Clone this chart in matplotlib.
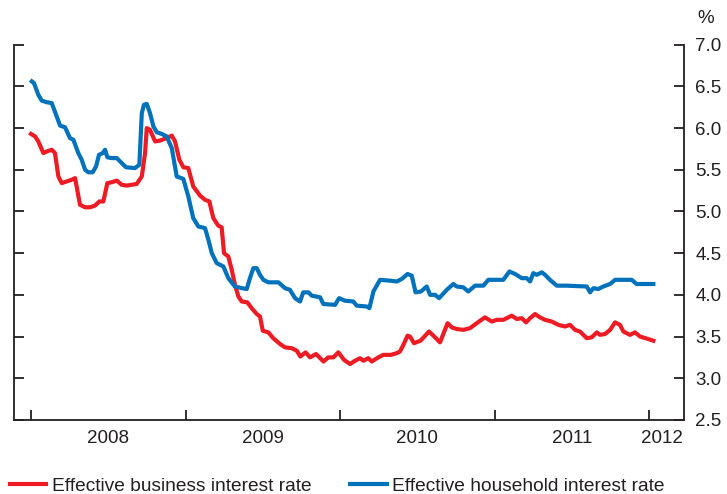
import numpy as np
import matplotlib
matplotlib.use('Agg')
import matplotlib.pyplot as plt

plt.rcParams['font.family'] = ['Liberation Sans', 'DejaVu Sans']

# --- Data (decimal years, % rates) --- #
business_t = [2008.000, 2008.026, 2008.047, 2008.080, 2008.102, 2008.134, 2008.155, 2008.177,
              2008.199, 2008.231, 2008.263, 2008.285, 2008.317, 2008.350, 2008.382, 2008.414,
              2008.442, 2008.468, 2008.494, 2008.522, 2008.555, 2008.587, 2008.619, 2008.652,
              2008.684, 2008.717, 2008.738, 2008.749, 2008.770, 2008.803, 2008.835, 2008.878,
              2008.911, 2008.932, 2008.960, 2008.986, 2009.018, 2009.050, 2009.094, 2009.126,
              2009.154, 2009.180, 2009.212, 2009.234, 2009.249, 2009.277, 2009.299, 2009.320,
              2009.342, 2009.364, 2009.400, 2009.428, 2009.461, 2009.482, 2009.500, 2009.536,
              2009.568, 2009.612, 2009.644, 2009.687, 2009.720, 2009.743, 2009.777, 2009.806,
              2009.845, 2009.893, 2009.924, 2009.957, 2009.989, 2010.026, 2010.065, 2010.097,
              2010.129, 2010.151, 2010.183, 2010.205, 2010.248, 2010.280, 2010.330, 2010.366,
              2010.388, 2010.410, 2010.437, 2010.453, 2010.479, 2010.521, 2010.576, 2010.599,
              2010.647, 2010.696, 2010.723, 2010.755, 2010.798, 2010.841, 2010.885, 2010.938,
              2010.982, 2011.014, 2011.057, 2011.111, 2011.144, 2011.176, 2011.204, 2011.230,
              2011.262, 2011.294, 2011.327, 2011.370, 2011.413, 2011.456, 2011.489, 2011.521,
              2011.553, 2011.597, 2011.629, 2011.662, 2011.683, 2011.715, 2011.748, 2011.780,
              2011.812, 2011.834, 2011.877, 2011.909, 2011.942, 2011.977, 2012.028]
business = [5.93, 5.90, 5.84, 5.70, 5.72, 5.74, 5.70, 5.42,
            5.34, 5.36, 5.38, 5.40, 5.08, 5.05, 5.05, 5.07,
            5.12, 5.12, 5.34, 5.35, 5.37, 5.32, 5.31, 5.32,
            5.33, 5.42, 5.70, 6.00, 5.98, 5.84, 5.85, 5.88,
            5.91, 5.84, 5.62, 5.53, 5.52, 5.30, 5.19, 5.14,
            5.12, 4.92, 4.83, 4.81, 4.50, 4.46, 4.30, 4.12,
            3.98, 3.92, 3.91, 3.84, 3.77, 3.74, 3.57, 3.55,
            3.48, 3.41, 3.37, 3.36, 3.33, 3.26, 3.31, 3.25,
            3.29, 3.20, 3.25, 3.25, 3.31, 3.22, 3.17, 3.21,
            3.24, 3.21, 3.24, 3.20, 3.25, 3.28, 3.28, 3.30,
            3.32, 3.40, 3.51, 3.50, 3.42, 3.45, 3.56, 3.52,
            3.43, 3.66, 3.61, 3.59, 3.58, 3.60, 3.66, 3.73,
            3.68, 3.70, 3.70, 3.75, 3.71, 3.72, 3.67, 3.72,
            3.77, 3.73, 3.70, 3.68, 3.64, 3.62, 3.64, 3.58,
            3.56, 3.48, 3.49, 3.55, 3.52, 3.53, 3.58, 3.67,
            3.64, 3.56, 3.52, 3.55, 3.50, 3.48, 3.45]

household_t = [2008.005, 2008.019, 2008.047, 2008.069, 2008.102, 2008.134, 2008.166, 2008.188,
               2008.220, 2008.252, 2008.274, 2008.306, 2008.328, 2008.350, 2008.371, 2008.399,
               2008.421, 2008.440, 2008.464, 2008.479, 2008.494, 2008.522, 2008.555, 2008.587,
               2008.615, 2008.673, 2008.701, 2008.717, 2008.731, 2008.749, 2008.770, 2008.792,
               2008.814, 2008.846, 2008.878, 2008.911, 2008.943, 2008.986, 2009.018, 2009.050,
               2009.083, 2009.126, 2009.148, 2009.170, 2009.202, 2009.245, 2009.277, 2009.320,
               2009.364, 2009.396, 2009.417, 2009.439, 2009.461, 2009.482, 2009.504, 2009.536,
               2009.601, 2009.644, 2009.676, 2009.709, 2009.741, 2009.762, 2009.795, 2009.817,
               2009.871, 2009.892, 2009.968, 2009.994, 2010.032, 2010.086, 2010.108, 2010.173,
               2010.190, 2010.216, 2010.259, 2010.324, 2010.367, 2010.399, 2010.437, 2010.464,
               2010.489, 2010.524, 2010.561, 2010.583, 2010.615, 2010.641, 2010.691, 2010.733,
               2010.755, 2010.798, 2010.830, 2010.874, 2010.928, 2010.960, 2011.057, 2011.096,
               2011.133, 2011.176, 2011.208, 2011.230, 2011.251, 2011.273, 2011.306, 2011.327,
               2011.359, 2011.403, 2011.467, 2011.597, 2011.618, 2011.640, 2011.672, 2011.704,
               2011.748, 2011.780, 2011.888, 2011.919, 2012.028]
household = [6.56, 6.54, 6.40, 6.33, 6.31, 6.30, 6.14, 6.03,
             6.01, 5.88, 5.86, 5.70, 5.62, 5.50, 5.47, 5.47,
             5.54, 5.68, 5.70, 5.74, 5.65, 5.64, 5.64, 5.58,
             5.53, 5.52, 5.56, 6.18, 6.28, 6.29, 6.18, 6.02,
             5.95, 5.93, 5.90, 5.76, 5.42, 5.39, 5.18, 4.92,
             4.82, 4.80, 4.66, 4.50, 4.38, 4.34, 4.20, 4.10,
             4.08, 4.07, 4.20, 4.32, 4.32, 4.24, 4.18, 4.15,
             4.15, 4.08, 4.06, 3.96, 3.92, 4.03, 4.03, 3.99,
             3.97, 3.89, 3.88, 3.96, 3.93, 3.92, 3.87, 3.86,
             3.84, 4.04, 4.18, 4.17, 4.16, 4.19, 4.25, 4.23,
             4.03, 4.04, 4.10, 4.00, 4.00, 3.96, 4.06, 4.13,
             4.10, 4.09, 4.04, 4.11, 4.11, 4.18, 4.18, 4.28,
             4.25, 4.20, 4.20, 4.16, 4.26, 4.24, 4.27, 4.24,
             4.18, 4.11, 4.11, 4.10, 4.03, 4.08, 4.07, 4.10,
             4.13, 4.18, 4.18, 4.13, 4.13]

years = [2008, 2009, 2010, 2011, 2012]
year_labels = ['2008', '2009', '2010', '2011', '2012']
year_label_pos = [2008.5, 2009.5, 2010.5, 2011.5, 2012.085]
y_ticks = np.arange(2.5, 7.01, 0.5)

red = '#ED1C24'
blue = '#0072BC'
axis_col = '#231F20'
fs = 13.5

# --- Plot --- #
fig = plt.figure(figsize=(7.27, 4.94), dpi=100)
ax = fig.add_axes([0.0193, 0.150, 0.9217, 0.7595])

ax.plot(business_t, business, color=red, lw=3.0, solid_joinstyle='round',
        label='Effective business interest rate')
ax.plot(household_t, household, color=blue, lw=3.0, solid_joinstyle='round',
        label='Effective household interest rate')

ax.set_xlim(2007.89, 2012.227)
ax.set_ylim(2.5, 7.0)

for side in ['left', 'right', 'bottom']:
    ax.spines[side].set_color(axis_col)
    ax.spines[side].set_linewidth(1.3)
ax.spines['top'].set_visible(False)

ax.set_yticks(y_ticks)
ax.set_yticklabels([f'{v:.1f}' for v in y_ticks])
ax.tick_params(axis='y', direction='in', length=7.5, width=1.3, color=axis_col,
               left=True, right=True, labelleft=False, labelright=True,
               labelsize=fs, labelcolor=axis_col, pad=8)

ax.set_xticks(years)
ax.set_xticklabels([])
ax.set_xticks(year_label_pos, minor=True)
ax.set_xticklabels(year_labels, minor=True)
ax.tick_params(axis='x', which='major', direction='in', length=7.5, width=1.3, color=axis_col)
ax.tick_params(axis='x', which='minor', length=0, labelsize=fs, labelcolor=axis_col, pad=7)

fig.text(0.982, 0.963, '%', fontsize=fs, color=axis_col, ha='right', va='center')

fig.legend(loc='lower left', bbox_to_anchor=(-0.01, -0.036), ncol=2, frameon=False,
           prop={'size': 13.8}, handlelength=1.9, handletextpad=0.3, columnspacing=2.0,
           labelcolor=axis_col)

fig.savefig('out.png', dpi=100)
